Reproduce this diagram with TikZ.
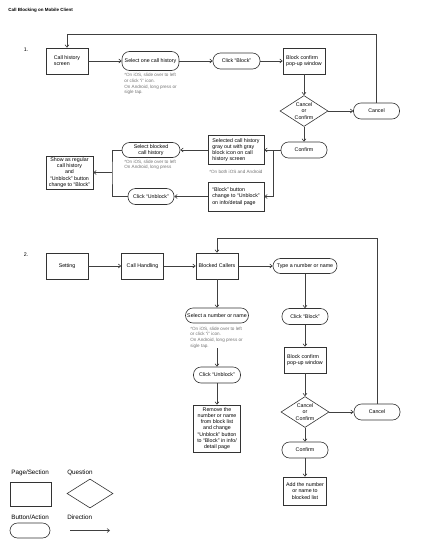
\documentclass[tikz,border=0pt]{standalone}
\usepackage{fontspec}
\setmainfont{Liberation Sans}
\usetikzlibrary{shapes.geometric,arrows.meta}

\begin{document}
\begin{tikzpicture}[x=1pt, y=-1pt, line width=0.6pt, draw=black!75,
  >={Straight Barb[length=2.5pt,width=4pt]},
  page/.style={draw=black!80, minimum width=42pt, minimum height=26pt, inner sep=1pt, font=\fontsize{5.3}{6.2}\selectfont},
  button/.style={draw=black!80, rounded corners=7.5pt, minimum width=46pt, minimum height=16pt, inner sep=1pt, font=\fontsize{5.3}{6.2}\selectfont},
  question/.style={draw=black!80, diamond, shape aspect=1.55, inner sep=0pt, minimum width=48pt, minimum height=31pt, align=center, font=\fontsize{5.3}{6.3}\selectfont},
  hint/.style={anchor=north west, align=left, inner sep=0pt, text=black!55, font=\fontsize{4.6}{5.7}\selectfont},
  legend/.style={anchor=west, inner sep=0pt, font=\fontsize{6.3}{7}\selectfont}]
\useasboundingbox (0,0) rectangle (435,549);

\node[anchor=west, inner sep=0pt, font=\fontsize{4.5}{5}\selectfont\bfseries] (title) at (8,10) {Call Blocking on Mobile Client};

% 1. blocking from call history
\node[font=\fontsize{5.3}{6}\selectfont] (one) at (26,50) {1.};
\node[page, align=left] (hist) at (67,61) {Call history\\screen};
\node[button, minimum width=57pt, minimum height=19pt] (sel) at (150.5,61) {Select one call history};
\node[hint] (selnote) at (124,73) {*On iOS, slide over to left\\or click ``i'' icon.\\On Android, long press or\\sigle tap.};
\node[button, minimum width=47pt] (blk) at (236.5,61) {Click ``Block''};
\node[page, align=left] (pop) at (304,61) {Block confirm\\pop-up window};
\node[question] (dec) at (304,111) {Cancel\\or\\Confirm};
\node[button] (cancel) at (376.5,111) {Cancel};
\node[button] (conf) at (304,150) {Confirm};
\node[page, align=left, minimum width=56pt, minimum height=29pt] (gray) at (236,150) {Selected call history\\gray out with gray\\block icon on call\\history screen};
\node[hint] (graynote) at (209,169.5) {*On both iOS and Android};
\node[page, align=left, minimum width=56pt, minimum height=29pt] (btn) at (236,196.5) {``Block'' button\\change to ``Unblock''\\on info/detail page};
\node[button, align=center, minimum width=58pt, minimum height=15pt] (selb) at (151,150) {Select blocked\\call history};
\node[hint] (selbnote) at (124,159.5) {*On iOS, slide over to left\\On Android, long press};
\node[button] (unb) at (151,196.5) {Click ``Unblock''};
\node[page, align=center, minimum width=47pt, minimum height=33pt] (show) at (69.5,172.5) {Show as regular\\call history\\and\\``Unblock'' button\\change to ``Block''};

\coordinate (loop1) at (0,34);
\coordinate (j1) at (273,150);
\coordinate (j2) at (112,172.5);
\draw[->] (hist) -- (sel);
\draw[->] (sel) -- (blk);
\draw[->] (blk) -- (pop);
\draw[->] (pop) -- (dec);
\draw[->] (dec) -- (cancel);
\draw[->] (dec) -- (conf);
\draw[->] (cancel.north) -- (cancel.north |- loop1) -| (hist.north);
\draw (conf.west) -- (j1);
\draw[->] (j1) -- (gray.east);
\draw[->] (j1) |- (btn.east);
\draw[->] (gray.west) -- (selb.east);
\draw[->] (btn.west) -- (unb.east);
\draw (selb.west) -| (j2) |- (unb.west);
\draw[->] (j2) -- (show.east);

% 2. blocking from settings
\node[font=\fontsize{5.3}{6}\selectfont] (two) at (26,255) {2.};
\node[page] (set) at (67,266) {Setting};
\node[page] (hand) at (142.5,266) {Call Handling};
\node[page] (bc) at (217,266) {Blocked Callers};
\node[button, minimum width=64pt, minimum height=15pt] (type) at (305,266) {Type a number or name};
\node[button, minimum width=63pt, minimum height=15pt] (sel2) at (217,315.5) {Select a number or name};
\node[hint] (sel2note) at (190,326.5) {*On iOS, slide over to left\\or click ``i'' icon.\\On Android, long press or\\sigle tap.};
\node[button, minimum width=47pt] (unb2) at (217,375) {Click ``Unblock''};
\node[page, align=center, minimum width=47pt, minimum height=47pt] (rem) at (217,428.5) {Remove the\\number or name\\from block list\\and change\\``Unblock'' button\\to ``Block'' in info/\\detail page};
\node[button] (clk2) at (305,316.5) {Click ``Block''};
\node[page, align=left] (pop2) at (305,360) {Block confirm\\pop-up window};
\node[question] (dec2) at (305,412) {Cancel\\or\\Confirm};
\node[button] (cancel2) at (377,412) {Cancel};
\node[button] (conf2) at (305,450) {Confirm};
\node[page, align=center, minimum width=43pt, minimum height=28pt] (add) at (305,491) {Add the number\\or name to\\blocked list};

\coordinate (loop2) at (0,238);
\draw[->] (set) -- (hand);
\draw[->] (hand) -- (bc);
\draw[->] (bc) -- (type);
\draw[->] (bc) -- (sel2);
\draw[->] (sel2note.south -| unb2.north) -- (unb2);
\draw[->] (unb2) -- (rem);
\draw[->] (type) -- (clk2);
\draw[->] (clk2) -- (pop2);
\draw[->] (pop2) -- (dec2);
\draw[->] (dec2) -- (cancel2);
\draw[->] (dec2) -- (conf2);
\draw[->] (conf2) -- (add);
\draw[->] (cancel2.north) -- (cancel2.north |- loop2) -| (bc.north);

% legend
\node[legend] (lpage) at (11,473) {Page/Section};
\node[draw=black!80, minimum width=41pt, minimum height=24pt] (lrect) at (30.5,494) {};
\node[legend] (lquest) at (67,473) {Question};
\node[question, minimum width=46pt, minimum height=29pt] (ldia) at (90,493.5) {};
\node[legend] (lbtn) at (11,517) {Button/Action};
\node[button, minimum width=40pt, minimum height=15pt] (lbut) at (30,530.5) {};
\node[legend] (ldir) at (67,517) {Direction};
\coordinate (da) at (70,530.5);
\coordinate (db) at (110,530.5);
\draw[->] (da) -- (db);
\end{tikzpicture}
\end{document}
